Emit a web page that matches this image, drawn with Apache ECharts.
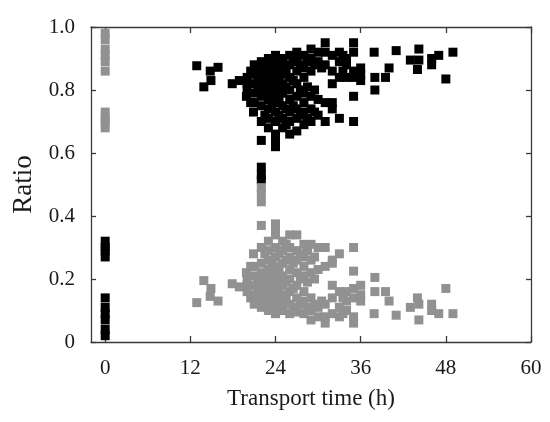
<!DOCTYPE html>
<html><head><meta charset="utf-8">
<script src="https://cdn.jsdelivr.net/npm/echarts@6/dist/echarts.min.js"></script>
<style>html,body{margin:0;padding:0;background:#fff}#c{width:550px;height:422px}</style>
</head><body><div id="c"></div>
<script>
// Transport time (h) of each sample
var hours = [
  0,0,0,0,0,0,0,0,0,0,
  12.9,14.8,15.9,14.9,13.9,17.9,18.9,20.0,19.9,20.9,
  20,20, 20.5,20.5, 21,21,21,21,21, 21.5,21.5,21.5,
  22,22,22,22,22,22,22,22,22,22,22,
  22.5,22.5,22.5,22.5,
  23,23,23,23,23,23,23,23,23,
  23.5,23.5,23.5,23.5,
  24,24,24,24,24,24,24,24,24,24,24,24,
  24.5,24.5,24.5,24.5,24.5,
  25,25,25,25,25,25,25,25,
  25.5,25.5,25.5,25.5,
  26,26,26,26,26,26,26,26,
  26.5,26.5,26.5,
  27,27,27,27,27,27,27,27,
  27.5,27.5,27.5,
  28,28,28,28,28,28,28,
  28.5,28.5,28.5,
  29,29,29,29,29,29,
  29.5,29.5,29.5,
  30,30,30,30,
  30.5,
  31,31,31,31,31,
  32,32,32,32,32,
  33,33,33,33,
  33.5,33.5,
  34,34,34,
  35,35,35,35,35,35,
  36,36,36,
  37.9,41,44.2,43,44.2,44,46,46,47,49,48,40,38,39.5,38
];
// Ratio drawn in black
var ratioBlack = [
  0.32,0.30,0.29,0.27,0.14,0.11,0.09,0.07,0.04,0.02,
  0.877,0.86,0.872,0.83,0.81,0.82,0.83,0.84,0.78,0.73,
  0.80,0.82, 0.86,0.76, 0.88,0.85,0.82,0.79,0.76, 0.87,0.83,0.80,
  0.89,0.86,0.84,0.81,0.78,0.75,0.70,0.64,0.555,0.53,0.515,
  0.88,0.83,0.79,0.72,
  0.90,0.87,0.85,0.82,0.80,0.77,0.74,0.71,0.68,
  0.88,0.84,0.79,0.75,
  0.91,0.89,0.86,0.83,0.81,0.78,0.76,0.73,0.70,0.66,0.64,0.62,
  0.87,0.84,0.80,0.77,0.72,
  0.90,0.88,0.85,0.82,0.79,0.75,0.71,0.68,
  0.86,0.81,0.74,0.69,
  0.91,0.88,0.84,0.80,0.77,0.73,0.70,0.66,
  0.89,0.83,0.75,
  0.92,0.90,0.86,0.82,0.78,0.74,0.71,0.67,
  0.88,0.80,0.72,
  0.91,0.87,0.84,0.79,0.76,0.73,0.69,
  0.89,0.81,0.71,
  0.93,0.90,0.86,0.78,0.74,0.70,
  0.88,0.80,0.73,
  0.92,0.89,0.77,0.72,
  0.87,
  0.95,0.92,0.88,0.76,0.70,
  0.91,0.86,0.82,0.76,0.74,
  0.92,0.89,0.84,0.71,
  0.91,0.86,
  0.90,0.88,0.84,
  0.95,0.92,0.86,0.84,0.78,0.70,
  0.87,0.85,0.83,
  0.92,0.925,0.93,0.895,0.895,0.865,0.90,0.88,0.91,0.92,0.835,0.87,0.84,0.84,0.80
];
// Ratio drawn in gray
var ratioGray = [
  0.68,0.70,0.71,0.73,0.86,0.89,0.91,0.93,0.96,0.98,
  0.125,0.145,0.13,0.17,0.195,0.185,0.175,0.16,0.22,0.28,
  0.20,0.18, 0.14,0.24, 0.12,0.15,0.18,0.21,0.24, 0.13,0.17,0.20,
  0.11,0.14,0.16,0.19,0.22,0.25,0.30,0.37,0.445,0.47,0.49,
  0.12,0.17,0.21,0.28,
  0.10,0.13,0.15,0.18,0.20,0.23,0.26,0.29,0.32,
  0.12,0.16,0.21,0.25,
  0.09,0.11,0.14,0.17,0.19,0.22,0.24,0.27,0.30,0.34,0.36,0.375,
  0.13,0.16,0.20,0.23,0.28,
  0.10,0.12,0.15,0.18,0.21,0.25,0.29,0.32,
  0.14,0.19,0.26,0.31,
  0.09,0.12,0.16,0.20,0.23,0.27,0.30,0.34,
  0.11,0.17,0.25,
  0.095,0.10,0.14,0.18,0.22,0.26,0.29,0.34,
  0.12,0.20,0.28,
  0.09,0.13,0.16,0.21,0.24,0.27,0.31,
  0.11,0.19,0.29,
  0.07,0.10,0.14,0.22,0.26,0.31,
  0.12,0.20,0.27,
  0.08,0.11,0.23,0.30,
  0.13,
  0.06,0.08,0.12,0.24,0.30,
  0.09,0.14,0.18,0.25,0.26,
  0.08,0.11,0.16,0.28,
  0.09,0.14,
  0.10,0.13,0.16,
  0.06,0.08,0.14,0.17,0.225,0.30,
  0.13,0.15,0.18,
  0.09,0.085,0.07,0.11,0.12,0.14,0.10,0.12,0.09,0.09,0.17,0.13,0.16,0.16,0.205
];
var xTicks = [0, 12, 24, 36, 48, 60];

var blackData = hours.map(function (h, i) { return [h, ratioBlack[i]]; });
var grayData = hours.map(function (h, i) { return [h, ratioGray[i]]; });

var font = 'Liberation Serif';
var lineStyle = { color: '#3a3a3a', width: 1.3 };
var chart = echarts.init(document.getElementById('c'), null, { renderer: 'canvas' });
chart.setOption({
  animation: false,
  backgroundColor: '#fff',
  grid: { left: 91, right: 19, top: 27, bottom: 80 },
  xAxis: [{
    type: 'value', min: -2, max: 60, position: 'bottom',
    name: 'Transport time (h)', nameLocation: 'middle', nameGap: 45,
    nameTextStyle: { fontFamily: font, fontSize: 23, color: '#1a1a1a' },
    axisLine: { onZero: false, lineStyle: lineStyle },
    axisTick: { inside: true, length: 6, lineStyle: lineStyle, customValues: xTicks },
    axisLabel: { customValues: xTicks, margin: 16, fontFamily: font, fontSize: 21, color: '#1a1a1a' },
    splitLine: { show: false }
  }, {
    type: 'value', min: -2, max: 60, position: 'top',
    axisLine: { onZero: false, lineStyle: lineStyle },
    axisTick: { inside: true, length: 6, lineStyle: lineStyle, customValues: xTicks },
    axisLabel: { show: false },
    splitLine: { show: false }
  }],
  yAxis: [{
    type: 'value', min: 0, max: 1, interval: 0.2, position: 'left',
    name: 'Ratio', nameLocation: 'middle', nameGap: 54, nameRotate: 90,
    nameTextStyle: { fontFamily: font, fontSize: 27, color: '#1a1a1a' },
    axisLine: { onZero: false, lineStyle: lineStyle },
    axisTick: { inside: true, length: 5, lineStyle: lineStyle },
    axisLabel: { margin: 16, fontFamily: font, fontSize: 21, color: '#1a1a1a',
      formatter: function (v) { return v === 0 ? '0' : v.toFixed(1); } },
    splitLine: { show: false }
  }, {
    type: 'value', min: 0, max: 1, interval: 0.2, position: 'right',
    axisLine: { onZero: false, lineStyle: lineStyle },
    axisTick: { inside: true, length: 5, lineStyle: lineStyle },
    axisLabel: { show: false },
    splitLine: { show: false }
  }],
  series: [{
    type: 'scatter', xAxisIndex: 0, yAxisIndex: 0, symbol: 'rect', symbolSize: 9,
    itemStyle: { color: '#000', opacity: 1 }, data: blackData
  }, {
    type: 'scatter', xAxisIndex: 0, yAxisIndex: 0, symbol: 'rect', symbolSize: 9,
    itemStyle: { color: '#919191', opacity: 1 }, data: grayData
  }]
});
</script></body></html>
